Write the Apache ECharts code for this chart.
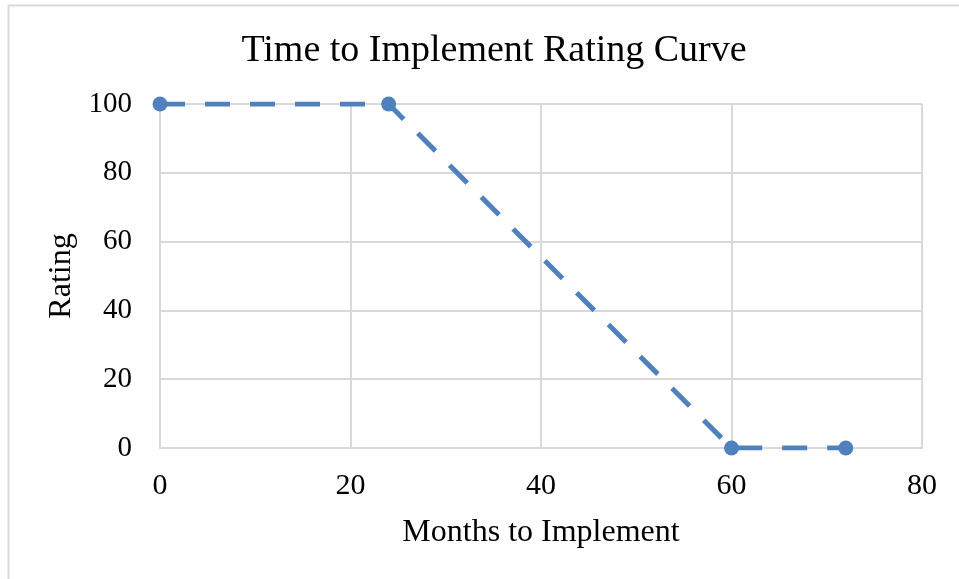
<!DOCTYPE html>
<html><head><meta charset="utf-8">
<script src="https://cdn.jsdelivr.net/npm/echarts@6/dist/echarts.min.js"></script>
<style>html,body{margin:0;padding:0;background:#fff}#c{width:959px;height:579px}</style>
</head><body><div id="c"></div>
<script>
const months = [0, 24, 60, 72];
const ratings = [100, 100, 0, 0];
const xTicks = [0, 20, 40, 60, 80];
const yTicks = [0, 20, 40, 60, 80, 100];

const font = "'Liberation Serif','Times New Roman',serif";
const chart = echarts.init(document.getElementById('c'));
chart.setOption({
  animation: false,
  backgroundColor: '#fff',
  graphic: [{type:'polyline', shape:{points:[[8.5,579],[8.5,5.5],[959,5.5]]}, style:{stroke:'#d9d9d9', lineWidth:2, fill:null}}],
  title: {text: 'Time to Implement Rating Curve', left: 489, top: 27, textAlign: 'center',
    textStyle: {fontFamily: font, fontSize: 38, fontWeight: 'normal', color: '#000'}},
  grid: {left: 160, right: 37, top: 104, bottom: 131},
  xAxis: {type: 'value', min: xTicks[0], max: xTicks[xTicks.length-1], interval: 20,
    name: 'Months to Implement', nameLocation: 'middle', nameGap: 69,
    nameTextStyle: {fontFamily: font, fontSize: 32, color: '#000'},
    axisLine: {show: true, lineStyle: {color: '#d9d9d9', width: 2}},
    axisTick: {show: false},
    axisLabel: {fontFamily: font, fontSize: 30, color: '#000', margin: 23},
    splitLine: {show: true, lineStyle: {color: '#d9d9d9', width: 2}}},
  yAxis: {type: 'value', min: yTicks[0], max: yTicks[yTicks.length-1], interval: 20,
    name: 'Rating', nameLocation: 'middle', nameGap: 82,
    nameTextStyle: {fontFamily: font, fontSize: 32, color: '#000'},
    axisLine: {show: false}, axisTick: {show: false},
    axisLabel: {fontFamily: font, fontSize: 29, color: '#000', margin: 28},
    splitLine: {show: true, lineStyle: {color: '#d9d9d9', width: 2}}},
  series: [{type: 'line', data: months.map((m,i)=>[m, ratings[i]]),
    symbol: 'circle', symbolSize: 15,
    itemStyle: {color: '#4f81bd'},
    lineStyle: {color: '#4f81bd', width: 5, type: [25, 20]}}]
});
</script></body></html>
